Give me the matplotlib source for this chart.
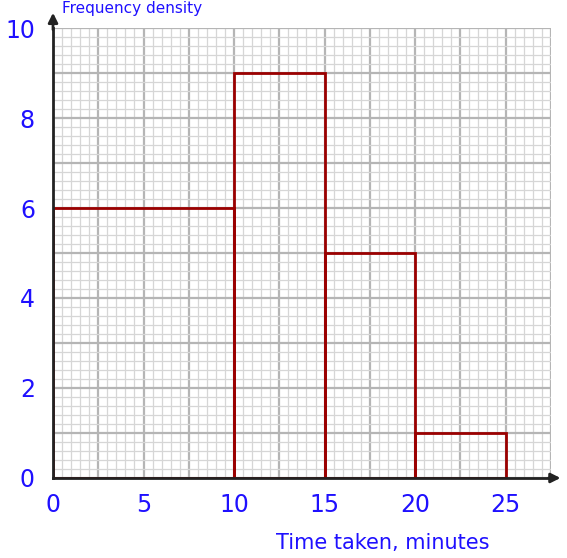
import numpy as np
import matplotlib.pyplot as plt

# class boundaries (minutes) and frequency density
edges = [0, 10, 15, 20, 25]
density = [6, 9, 5, 1]
x_ticks = [0, 5, 10, 15, 20, 25]
y_ticks = [0, 2, 4, 6, 8, 10]

blue = '#1f10ff'
bar_col = '#9a0000'

fig = plt.figure(figsize=(5.67, 5.58), dpi=100)
ax = fig.add_axes([0.0935, 0.1434, 0.878, 0.8064])
ax.set_xlim(0, 27.5)
ax.set_ylim(0, 10)

# graph paper
for x in np.arange(0, 27.51, 0.5):
    major = abs(x / 2.5 - round(x / 2.5)) < 1e-6
    ax.axvline(x, color='#b5b5b5' if major else '#d6d6d6',
               lw=1.6 if major else 0.9, zorder=1)
for y in np.arange(0, 10.01, 0.2):
    major = abs(y - round(y)) < 1e-6
    ax.axhline(y, color='#b5b5b5' if major else '#d6d6d6',
               lw=1.6 if major else 0.9, zorder=1)

# histogram
widths = np.diff(edges)
ax.bar(edges[:-1], density, width=widths, align='edge', fill=False,
       edgecolor=bar_col, linewidth=2, zorder=3)

ax.set_xticks(x_ticks)
ax.set_yticks(y_ticks)
ax.tick_params(length=0, labelsize=17, labelcolor=blue)
ax.tick_params(axis='x', pad=11)
ax.tick_params(axis='y', pad=13)

for s in ['top', 'right']:
    ax.spines[s].set_visible(False)
for s in ['left', 'bottom']:
    ax.spines[s].set_linewidth(2)
    ax.spines[s].set_color('#222222')
    ax.spines[s].set_zorder(4)

# axis arrows
ax.annotate('', xy=(0, 1.04), xytext=(0, 0.99), xycoords='axes fraction',
            arrowprops=dict(arrowstyle='-|>', color='#222222', lw=2,
                            mutation_scale=14), annotation_clip=False)
ax.annotate('', xy=(1.025, 0), xytext=(0.99, 0), xycoords='axes fraction',
            arrowprops=dict(arrowstyle='-|>', color='#222222', lw=2,
                            mutation_scale=14), annotation_clip=False)

fig.text(0.675, 0.027, 'Time taken, minutes', color=blue, fontsize=15,
         ha='center', va='center')
fig.text(0.11, 0.998, 'Frequency density', color=blue, fontsize=11,
         ha='left', va='top')

fig.savefig('out.png', dpi=100)
